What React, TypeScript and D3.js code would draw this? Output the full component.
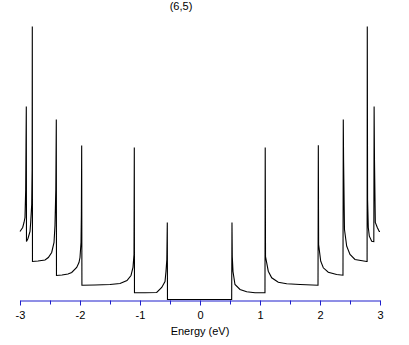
import React, {useEffect, useRef} from "react";
import * as d3 from "d3";

const title = "(6,5)";
const xLabel = "Energy (eV)";

// density of states, negative energies (valence side)
const energyNeg = [
    -3.0, -2.955, -2.933, -2.917, -2.905, -2.9, -2.895, -2.892,
    -2.867, -2.833, -2.822, -2.805, -2.798, -2.795, -2.792,
    -2.7, -2.583, -2.528, -2.472, -2.433, -2.417, -2.403, -2.395, -2.392,
    -2.3, -2.2, -2.138, -2.055, -2.017, -2.0, -1.983, -1.977, -1.972, -1.968,
    -1.75, -1.5, -1.333, -1.217, -1.15, -1.117, -1.1, -1.095, -1.092,
    -0.917, -0.722, -0.638, -0.583, -0.567, -0.553, -0.545, -0.542,
];
const dosNeg = [
    68, 72, 77, 82, 110, 153, 193, 58,
    61, 68, 77, 95, 130, 273, 38,
    38.5, 39.5, 42, 47, 57, 74, 110, 180, 24,
    24.5, 25.5, 27, 32, 37, 42, 57, 85, 154, 14.3,
    14.5, 15, 16, 19, 24, 32, 45, 152, 6.7,
    6.7, 7, 12, 18, 28, 40, 77, 0,
];

// positive energies (conduction side)
const energyPos = [
    0.528, 0.533, 0.538, 0.55, 0.583, 0.667, 0.778, 0.917,
    1.083, 1.087, 1.092, 1.138, 1.195, 1.305, 1.445, 1.667,
    1.967, 1.972, 1.977, 2.012, 2.055, 2.138, 2.278,
    2.383, 2.388, 2.393, 2.408, 2.445, 2.5, 2.583, 2.778,
    2.785, 2.788, 2.793, 2.805, 2.822, 2.862, 2.897,
    2.902, 2.908, 2.922, 2.955, 2.988, 3.0,
];
const dosPos = [
    0, 77, 43, 28, 15, 10, 7.7, 6.7,
    6.7, 152, 43, 28.3, 21.7, 17.3, 15.7, 15,
    14.3, 154.3, 55, 38.3, 31.7, 27.3, 25,
    24.3, 180, 140, 70, 53.3, 45, 40, 38,
    38, 273, 100, 72, 63.3, 58.3, 58,
    193, 140, 77, 72, 68, 68,
];

const majorTicks = [-3, -2, -1, 0, 1, 2, 3];
const minorTicks = [-2.5, -1.5, -0.5, 0.5, 1.5, 2.5];

const App: React.FC = () => {
    const svgRef = useRef<SVGSVGElement | null>(null);

    useEffect(() => {
        if (!svgRef.current) return;
        const svg = d3.select(svgRef.current);
        svg.selectAll("*").remove();

        const axisColor = "#1f1fcc";
        const font = "'Liberation Sans', Arial, sans-serif";

        const xScale = d3.scaleLinear().domain([-3, 3]).range([20, 380]);
        const yScale = d3.scaleLinear().domain([0, 280]).range([299.5, 19.5]);

        const points = [
            ...energyNeg.map((e, i) => [e, dosNeg[i]] as [number, number]),
            ...energyPos.map((e, i) => [e, dosPos[i]] as [number, number]),
        ];

        const line = d3
            .line<[number, number]>()
            .x((d) => xScale(d[0]))
            .y((d) => yScale(d[1]));

        svg
            .append("path")
            .datum(points)
            .attr("d", line)
            .attr("fill", "none")
            .attr("stroke", "#000")
            .attr("stroke-width", 1.1);

        // minor ticks (no labels)
        const minor = svg
            .append("g")
            .attr("transform", "translate(0, 300.5)")
            .call(
                d3.axisBottom(xScale)
                    .tickValues(minorTicks)
                    .tickSize(4)
                    .tickSizeOuter(0)
                    .tickFormat(() => "")
            );
        minor.select(".domain").remove();
        minor.selectAll("line").attr("stroke", axisColor);

        const major = svg
            .append("g")
            .attr("transform", "translate(0, 300.5)")
            .call(
                d3.axisBottom(xScale)
                    .tickValues(majorTicks)
                    .tickSize(5)
                    .tickSizeOuter(0)
                    .tickPadding(6)
                    .tickFormat((d) => String(d))
            );
        major.select(".domain").attr("stroke", axisColor);
        major.selectAll("line").attr("stroke", axisColor);
        major
            .selectAll("text")
            .attr("fill", "#000")
            .style("font-family", font)
            .style("font-size", "11px");

        svg
            .append("text")
            .attr("x", 200)
            .attr("y", 335)
            .attr("text-anchor", "middle")
            .style("font-family", font)
            .style("font-size", "11px")
            .text(xLabel);

        svg
            .append("text")
            .attr("x", 181)
            .attr("y", 10)
            .attr("text-anchor", "middle")
            .style("font-family", font)
            .style("font-size", "11px")
            .text(title);
    }, []);

    return (
        <svg
            ref={svgRef}
            width={409}
            height={345}
            style={{position: "absolute", left: 0, top: 0, background: "#fff"}}
        />
    );
};

export default App;
